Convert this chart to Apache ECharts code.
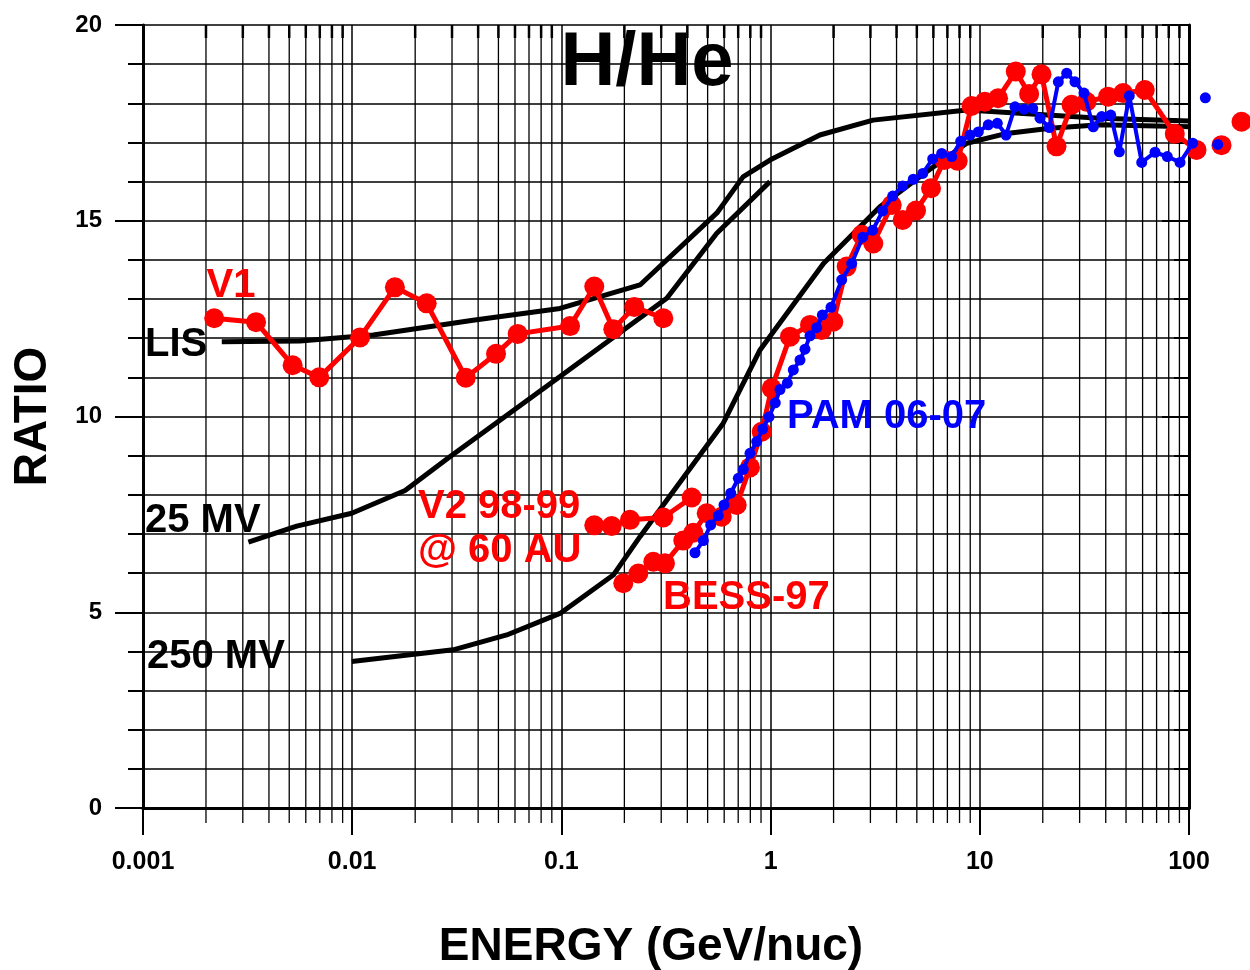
<!DOCTYPE html>
<html>
<head>
<meta charset="utf-8">
<title>H/He</title>
<script src="https://cdn.jsdelivr.net/npm/echarts@6/dist/echarts.min.js"></script>
<style>
  html, body { margin: 0; padding: 0; background: #fff; }
  #chart { width: 1250px; height: 970px; }
</style>
</head>
<body>
<div id="chart"></div>
<script>
// axis ticks
const xTickLabels = ['0.001', '0.01', '0.1', '1', '10', '100'];
const decades = [0.001, 0.01, 0.1, 1, 10];
const minorX = [];
decades.forEach(d => { for (let k = 2; k <= 9; k++) minorX.push(+(d * k).toPrecision(3)); });

// model curves (energy GeV/nuc, H/He ratio)
const lisE = [0.00238, 0.00563, 0.0126, 0.0378, 0.0985, 0.2375, 0.554, 0.738, 0.993, 1.72, 3.09, 8.69, 37.5, 101];
const lisR = [11.91, 11.93, 12.08, 12.46, 12.76, 13.36, 15.20, 16.12, 16.55, 17.19, 17.57, 17.83, 17.62, 17.55];

const mv25E = [0.00319, 0.00543, 0.00995, 0.0179, 0.0293, 0.0985, 0.319, 0.553, 0.993];
const mv25R = [6.79, 7.20, 7.53, 8.11, 8.97, 11.02, 13.02, 14.68, 16.0];

const mv250E = [0.00995, 0.0304, 0.0548, 0.0985, 0.177, 0.2375, 0.594, 0.890, 1.79, 3.33, 5.57, 8.66, 13.45, 21.7, 37.5, 101];
const mv250R = [3.74, 4.04, 4.42, 4.97, 5.95, 6.93, 9.83, 11.70, 13.91, 15.36, 16.25, 16.98, 17.23, 17.36, 17.45, 17.40];

// data sets
const v1E = [0.00219, 0.00347, 0.00519, 0.00696, 0.0109, 0.0160, 0.0227, 0.0349, 0.0487, 0.0618, 0.110, 0.1436, 0.177, 0.223, 0.307];
const v1R = [12.51, 12.41, 11.31, 11.00, 12.02, 13.30, 12.89, 10.99, 11.60, 12.11, 12.31, 13.32, 12.23, 12.80, 12.51];

const v2E = [0.1436, 0.1739, 0.2128, 0.3069, 0.4197];
const v2R = [7.22, 7.20, 7.36, 7.42, 7.93];

const bessE = [0.1976, 0.2332, 0.2750, 0.3127, 0.3825, 0.4271, 0.4950, 0.5840, 0.6887, 0.7970, 0.9067, 1.012,
  1.238, 1.543, 1.755, 1.994, 2.311, 2.726, 3.097, 3.793, 4.280, 4.956, 5.846, 6.767, 7.842,
  9.13, 10.56, 12.23, 14.86, 17.21, 19.72, 23.27, 27.45, 32.37, 41.05, 48.42, 61.47, 85.52, 108.6, 143.0, 178.2];
const bessR = [5.74, 5.99, 6.29, 6.25, 6.83, 7.03, 7.53, 7.44, 7.74, 8.70, 9.61, 10.72,
  12.04, 12.34, 12.21, 12.42, 13.83, 14.64, 14.42, 15.40, 15.02, 15.26, 15.83, 16.55, 16.53,
  17.93, 18.04, 18.13, 18.81, 18.24, 18.74, 16.90, 17.96, 18.04, 18.17, 18.26, 18.34, 17.22, 16.81, 16.93, 17.53];

const pamE = [0.4351, 0.4769, 0.5171, 0.5623, 0.5988, 0.6447, 0.7008, 0.7406, 0.7970, 0.8581, 0.9167, 0.9826,
  1.053, 1.109, 1.202, 1.284, 1.382, 1.460, 1.543, 1.661, 1.767, 1.944, 2.187, 2.441, 2.756, 3.077,
  3.435, 3.834, 4.280, 4.810, 5.335, 5.954, 6.576, 7.340, 8.103, 8.980, 9.838, 10.98, 12.13, 13.35,
  14.73, 16.27, 17.90, 19.40, 21.49, 23.73, 26.03, 28.51, 31.49, 34.87, 38.26, 42.25, 46.45, 51.84,
  59.43, 68.80, 78.77, 90.58, 104.2, 119.7, 137.2];
const pamR = [6.52, 6.83, 7.23, 7.47, 7.74, 8.04, 8.42, 8.65, 9.06, 9.36, 9.68, 9.99,
  10.35, 10.69, 10.85, 11.19, 11.44, 11.72, 12.06, 12.27, 12.59, 12.79, 13.49, 13.91, 14.58, 14.76,
  15.25, 15.63, 15.89, 16.06, 16.21, 16.58, 16.72, 16.64, 17.03, 17.19, 17.27, 17.45, 17.49, 17.19,
  17.91, 17.85, 17.87, 17.62, 17.38, 18.55, 18.77, 18.55, 18.26, 17.40, 17.66, 17.70, 16.76, 18.19,
  16.49, 16.75, 16.64, 16.49, 16.98, 18.14, 16.95];

const zip = (a, b) => a.map((v, i) => [v, b[i]]);
const FONT = '"Liberation Sans", Arial, sans-serif';

const curve = (name, e, r) => ({
  name, type: 'line', data: zip(e, r), showSymbol: false, clip: false, z: 3,
  lineStyle: { color: '#000', width: 5 }
});
const dots = (name, e, r, color, size, width, z) => ({
  name, type: 'line', data: zip(e, r), symbol: 'circle', symbolSize: size, clip: false, z,
  itemStyle: { color }, lineStyle: { color, width }
});
const label = (text, x, y, color, align) => ({
  type: 'text', x, y, z: 10,
  style: { text, fill: color, font: 'bold 40px ' + FONT, textAlign: align || 'left', textVerticalAlign: 'middle' }
});

const chart = echarts.init(document.getElementById('chart'));

chart.setOption({
  animation: false,
  backgroundColor: '#fff',
  grid: { left: 143, top: 25, width: 1046, height: 783, containLabel: false, outerBoundsMode: 'none' },
  xAxis: [
    {
      type: 'log', logBase: 10, min: 0.001, max: 100, position: 'bottom',
      name: 'ENERGY (GeV/nuc)', nameLocation: 'middle', nameGap: 116,
      nameTextStyle: { fontFamily: FONT, fontWeight: 'bold', fontSize: 46, color: '#000', padding: [0, 30, 0, 0] },
      axisLine: { lineStyle: { color: '#000', width: 3 } },
      axisTick: { length: 27, lineStyle: { color: '#000', width: 2 } },
      axisLabel: {
        margin: 42, fontFamily: FONT, fontWeight: 'bold', fontSize: 25, color: '#000',
        formatter: v => xTickLabels[Math.round(Math.log10(v)) + 3]
      },
      splitLine: { show: true, lineStyle: { color: '#000', width: 1.5 } }
    },
    {
      type: 'log', logBase: 10, min: 0.001, max: 100, position: 'top',
      axisLine: { lineStyle: { color: '#000', width: 3 } },
      axisTick: { inside: true, length: 27, lineStyle: { color: '#000', width: 2 } },
      axisLabel: { show: false },
      splitLine: { show: false }
    }
  ],
  yAxis: [
    {
      type: 'value', min: 0, max: 20, interval: 5, position: 'left',
      name: 'RATIO', nameLocation: 'middle', nameGap: 87, nameRotate: 90,
      nameTextStyle: { fontFamily: FONT, fontWeight: 'bold', fontSize: 46, color: '#000' },
      axisLine: { show: true, lineStyle: { color: '#000', width: 3 } },
      axisTick: { show: true, length: 28, lineStyle: { color: '#000', width: 2 } },
      minorTick: { show: true, splitNumber: 5, length: 15, lineStyle: { color: '#000', width: 2 } },
      axisLabel: { margin: 41, fontFamily: FONT, fontWeight: 'bold', fontSize: 24, color: '#000' },
      splitLine: { show: true, lineStyle: { color: '#000', width: 1.5 } },
      minorSplitLine: { show: true, lineStyle: { color: '#000', width: 1.5 } }
    },
    {
      type: 'value', min: 0, max: 20, interval: 5, position: 'right',
      axisLine: { show: true, lineStyle: { color: '#000', width: 3 } },
      axisTick: { show: true, inside: true, length: 27, lineStyle: { color: '#000', width: 2 } },
      minorTick: { show: true, splitNumber: 5, length: 15, lineStyle: { color: '#000', width: 2 } },
      axisLabel: { show: false },
      splitLine: { show: false }
    }
  ],
  series: [
    {
      // minor vertical grid lines + ticks (2..9 of each decade)
      type: 'custom', silent: true, clip: false, z: 1,
      data: minorX.map(v => [v, 0]),
      encode: { x: 0, y: 1 },
      renderItem: (params, api) => {
        const x = api.coord([api.value(0), 0])[0];
        const cs = params.coordSys;
        return {
          type: 'group', children: [
            { type: 'line', shape: { x1: x, y1: cs.y, x2: x, y2: cs.y + cs.height + 15 },
              style: { stroke: '#000', lineWidth: 1.3 } },
            { type: 'line', shape: { x1: x, y1: cs.y, x2: x, y2: cs.y + 13 },
              style: { stroke: '#000', lineWidth: 2.5 } }
          ]
        };
      }
    },
    curve('LIS', lisE, lisR),
    curve('25 MV', mv25E, mv25R),
    curve('250 MV', mv250E, mv250R),
    dots('V1', v1E, v1R, '#ff0000', 20, 5, 4),
    dots('V2 98-99', v2E, v2R, '#ff0000', 20, 5, 4),
    dots('BESS-97', bessE, bessR, '#ff0000', 20, 5, 4),
    dots('PAM 06-07', pamE, pamR, '#0000ff', 11, 4, 5)
  ],
  graphic: [
    { type: 'text', x: 647, y: 64, z: 10,
      style: { text: 'H/He', fill: '#000', font: 'bold 76px ' + FONT, textAlign: 'center', textVerticalAlign: 'middle' } },
    label('V1', 231, 286, '#ff0000', 'center'),
    label('LIS', 145, 345, '#000'),
    label('25 MV', 145, 521, '#000'),
    label('250 MV', 147, 657, '#000'),
    label('V2 98-99', 418, 507, '#ff0000'),
    label('@ 60 AU', 418, 551, '#ff0000'),
    label('BESS-97', 663, 598, '#ff0000'),
    label('PAM 06-07', 787, 417, '#0000ff')
  ]
});

window.addEventListener('resize', () => chart.resize());
</script>
</body>
</html>
